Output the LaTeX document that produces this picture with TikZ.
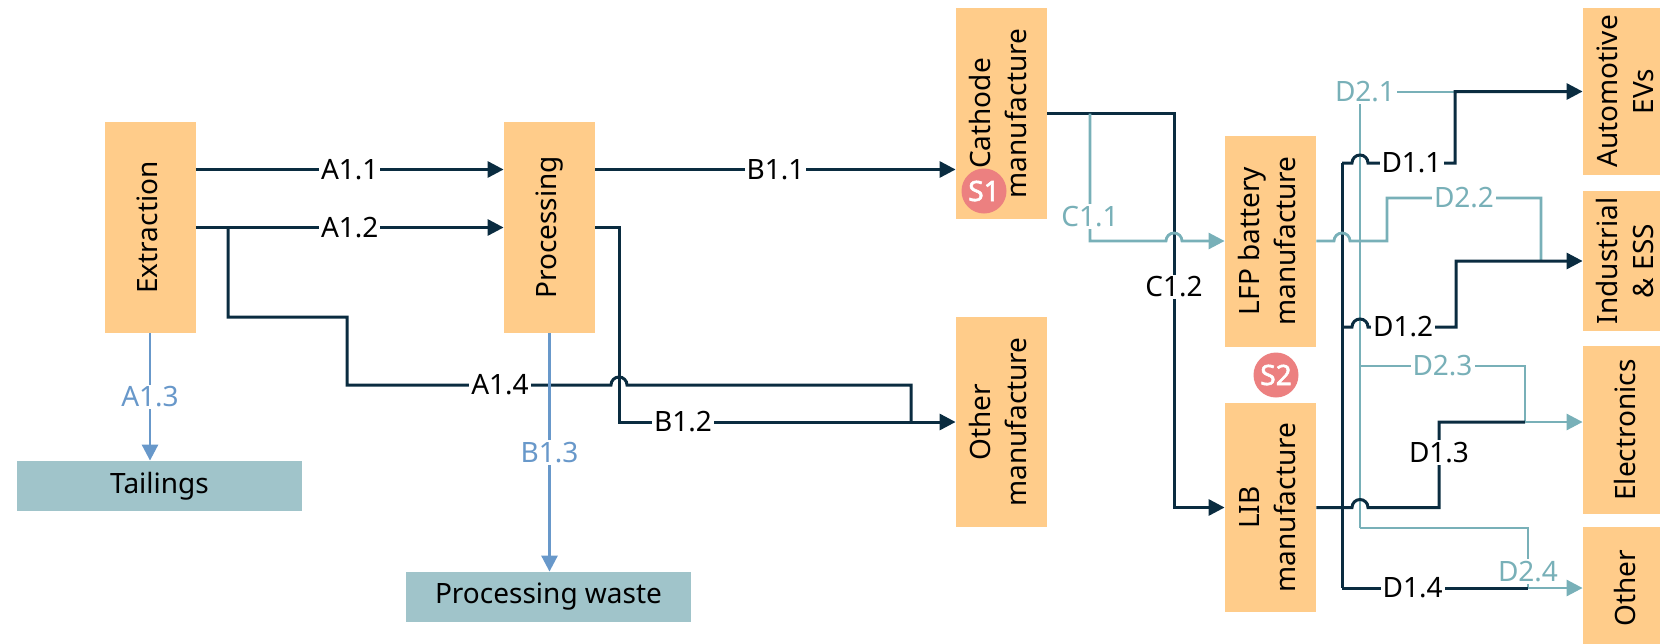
\documentclass[tikz,border=0pt]{standalone}
\usepackage{fontspec}
\setmainfont{Noto Sans}[AutoFakeBold=2]
\usepackage{graphicx}
\usetikzlibrary{arrows.meta}
\definecolor{boxorange}{RGB}{255,204,138}
\definecolor{wastegrey}{RGB}{160,196,202}
\definecolor{navy}{RGB}{10,44,64}
\definecolor{flowblue}{RGB}{104,152,202}
\definecolor{flowteal}{RGB}{120,176,184}
\definecolor{spotred}{RGB}{236,128,128}
\newcommand{\vlab}[1]{\rotatebox{90}{\begin{tabular}{@{}c@{}}#1\end{tabular}}}

\begin{document}
\begin{tikzpicture}[x=0.5pt,y=-0.5pt,font=\fontsize{14}{18}\selectfont,
  stage/.style={fill=boxorange,inner sep=0pt,minimum width=45.5pt},
  sink/.style={fill=wastegrey,inner sep=0pt,minimum width=142.5pt,minimum height=25pt},
  spot/.style={circle,fill=spotred,text=white,inner sep=0pt,minimum size=22.5pt,font=\fontsize{14}{16}\selectfont\bfseries},
  navyflow/.style={draw=navy,line width=1.5pt},
  tealflow/.style={draw=flowteal,line width=1.4pt},
  blueflow/.style={draw=flowblue,line width=1.4pt},
  flowarrow/.style={-{Triangle[length=8pt,width=8pt]}},
  lab/.style={fill=white,inner sep=1pt,text=black}]
\useasboundingbox (0,0) rectangle (1660,643);
\clip (0,0) rectangle (1660,643);

\node[stage,minimum height=105.5pt] (ext) at (150,227.5) {\vlab{Extraction}};
\node[stage,minimum height=105.5pt] (proc) at (549.5,227.5) {\vlab{Processing}};
\node[stage,minimum height=105.5pt] (cath) at (1001.5,113.5) {\vlab{Cathode\\manufacture}};
\node[stage,minimum height=105pt] (othman) at (1001.5,422) {\vlab{Other\\manufacture}};
\node[stage,minimum height=105.5pt] (lfp) at (1270.5,241) {\vlab{LFP battery\\manufacture}};
\node[stage,minimum height=104.5pt] (lib) at (1270.5,507.5) {\vlab{LIB\\manufacture}};
\node[stage,minimum height=83.5pt] (evs) at (1628.5,91.5) {\vlab{Automotive\\EVs}};
\node[stage,minimum height=70pt] (ess) at (1628.5,261) {\vlab{Industrial\\\& ESS}};
\node[stage,minimum height=84pt] (elec) at (1628.5,430) {\vlab{Electronics}};
\node[stage,minimum height=61pt] (othuse) at (1628.5,588) {\vlab{Other}};
\node[sink] (tail) at (159.5,486) {Tailings};
\node[sink] (waste) at (548.5,597) {Processing waste};

\coordinate (a11) at ([yshift=29pt]ext.east);
\coordinate (b11) at ([yshift=29pt]proc.east);
\coordinate (a14) at (228,227.5);
\coordinate (c11) at (1090,113.5);
\coordinate (tealtop) at (1360,92);
\coordinate (tealend) at (1360,528);
\coordinate (navytop) at (1342,163);
\coordinate (navyend) at (1342,588);
\coordinate (d23) at (1525,422);
\coordinate (d24) at (1528,588);

\draw[navyflow,flowarrow] (a11) -- node[lab]{A1.1} (a11 -| proc.west);
\draw[navyflow,flowarrow] (ext.east) -- node[lab]{A1.2} (proc.west);
\draw[navyflow] (a14) |- (347,317) |- (611,385) arc[start angle=180,end angle=0,radius=4pt] -- (911,385) -- (911,422) node[lab] at (500,385) {A1.4};
\draw[navyflow,flowarrow] (proc.east) -| (619,422) -- node[lab,pos=0.19]{B1.2} (othman.west);
\draw[navyflow,flowarrow] (b11) -- node[lab]{B1.1} (b11 -| cath.west);
\draw[blueflow,flowarrow] (ext.south) -- node[lab,text=flowblue]{A1.3} (ext.south |- tail.north);
\draw[blueflow,flowarrow] (proc.south) -- node[lab,text=flowblue]{B1.3} (proc.south |- waste.north);

\draw[navyflow,flowarrow] (cath.east) -- (1174,113.5) -- node[lab,pos=0.44]{C1.2} (1174,507.5) -- (lib.west);
\draw[tealflow,flowarrow] (c11) -- node[lab,text=flowteal,pos=0.81]{C1.1} (1090,241) -- (1166,241) arc[start angle=180,end angle=0,radius=4pt] -- (lfp.west);

\draw[tealflow] (tealtop) -- (tealend);
\draw[navyflow] (navytop) -- (navyend);

\draw[tealflow] (tealtop) -- (1455,92) node[lab,text=flowteal] at (1365,92) {D2.1};
\draw[navyflow,flowarrow] (navytop) -- (1352,163) arc[start angle=180,end angle=0,radius=4pt] -- node[lab]{D1.1} (1455,163) |- (evs.west);
\draw[tealflow] (lfp.east) -- (1334,241) arc[start angle=180,end angle=0,radius=4pt] -- (1387,241) |- node[lab,text=flowteal,pos=0.75]{D2.2} (1541,198) -- (1541,261);
\draw[navyflow,flowarrow] (1342,327) -- (1352,327) arc[start angle=180,end angle=0,radius=4pt] -- node[lab,pos=0.4]{D1.2} (1456,327) |- (ess.west);
\draw[tealflow] (1360,366) -- node[lab,text=flowteal]{D2.3} (1525,366) -- (d23);
\draw[navyflow] (lib.east) -- (1352,507.5) arc[start angle=180,end angle=0,radius=4pt] -- (1439,507.5) -- node[lab,pos=0.64]{D1.3} (1439,422) -- (d23);
\draw[tealflow,flowarrow] (d23) -- (d23 -| elec.west);
\draw[tealflow] (tealend) -| node[lab,text=flowteal,pos=0.86]{D2.4} (d24);
\draw[navyflow] (navyend) -- node[lab,pos=0.38]{D1.4} (d24);
\draw[tealflow,flowarrow] (d24) -- (d24 -| othuse.west);

\node[spot] (s1) at (984,191) {S1};
\node[spot] (s2) at (1276,375) {S2};
\end{tikzpicture}
\end{document}
